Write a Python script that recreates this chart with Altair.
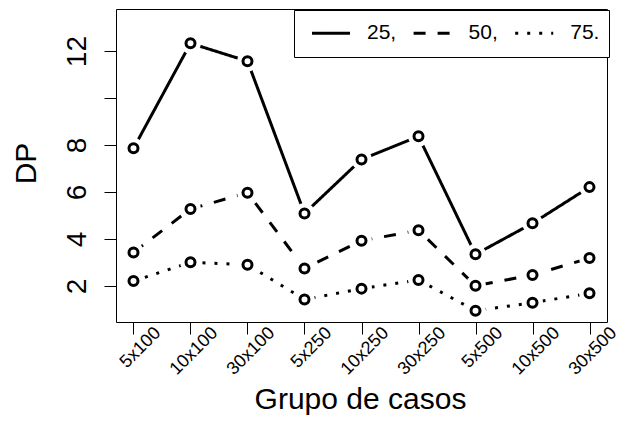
import altair as alt
import pandas as pd

groups = ["5x100", "10x100", "30x100", "5x250", "10x250", "30x250", "5x500", "10x500", "30x500"]
series_names = ["25,", "50,", "75."]
s25 = [7.86, 12.33, 11.57, 5.09, 7.39, 8.37, 3.35, 4.67, 6.21]
s50 = [3.43, 5.28, 5.97, 2.75, 3.93, 4.37, 2.01, 2.47, 3.19]
s75 = [2.21, 3.01, 2.91, 1.43, 1.89, 2.26, 0.95, 1.29, 1.69]
y_ticks = [2, 4, 6, 8, 10, 12]

rows = []
for name, vals in zip(series_names, [s25, s50, s75]):
    for g, v in zip(groups, vals):
        rows.append({"grupo": g, "serie": name, "dp": v})
df = pd.DataFrame(rows)

FONT = "Liberation Sans"

x_enc = alt.X(
    "grupo:N",
    sort=groups,
    scale=alt.Scale(type="point", padding=0.307),
    axis=alt.Axis(
        title="Grupo de casos",
        titleFontSize=30,
        titleFont=FONT,
        titleFontWeight="normal",
        titleColor="black",
        titleX=244,
        titleY=86,
        titleAlign="center",
        titleBaseline="alphabetic",
        labelFont=FONT,
        labelFontSize=18,
        labelColor="black",
        labelAngle=-45,
        labelAlign="right",
        labelBaseline="middle",
        labelPadding=-4,
        labelOffset=24,
        labelOverlap=False,
        labelFlush=False,
        labelBound=False,
        tickSize=12,
        tickColor="black",
        tickWidth=1,
        domain=False,
        grid=False,
    ),
)
y_enc = alt.Y(
    "dp:Q",
    scale=alt.Scale(domain=[0.47, 13.79], nice=False, zero=False),
    axis=alt.Axis(
        title="DP",
        titleFontSize=30,
        titleFont=FONT,
        titleFontWeight="normal",
        titleColor="black",
        titleAngle=270,
        titleX=-81,
        titleY=154,
        titleAlign="center",
        titleBaseline="alphabetic",
        values=y_ticks,
        labelExpr="datum.value == 10 ? '' : datum.label",
        labelFont=FONT,
        labelFontSize=28,
        labelColor="black",
        labelAngle=270,
        labelAlign="center",
        labelBaseline="alphabetic",
        labelPadding=19,
        labelOverlap=False,
        labelFlush=False,
        tickSize=12,
        tickColor="black",
        tickWidth=1,
        domain=False,
        grid=False,
    ),
)

base = alt.Chart(df).encode(x=x_enc, y=y_enc)

lines = base.mark_line(color="black", strokeWidth=3, strokeCap="butt").encode(
    strokeDash=alt.StrokeDash(
        "serie:N",
        scale=alt.Scale(domain=series_names, range=[[1, 0], [12, 12], [3, 9]]),
        legend=alt.Legend(
            title=None,
            orient="none",
            legendX=178,
            legendY=1,
            direction="horizontal",
            symbolType="stroke",
            symbolSize=1444,
            symbolStrokeWidth=3,
            symbolStrokeColor="black",
            symbolOffset=7.7,
            clipHeight=29,
            labelFont=FONT,
            labelFontSize=21,
            labelColor="black",
            labelOffset=15.5,
            columnPadding=7.6,
            padding=8.8,
            strokeColor="black",
            fillColor="white",
            cornerRadius=0,
        ),
    ),
    detail="serie:N",
)

halo = base.mark_point(shape="circle", filled=True, fill="white", size=441, opacity=1, strokeWidth=0).encode(
    detail="serie:N"
)
points = base.mark_point(shape="circle", filled=False, stroke="black", strokeWidth=3, size=81, opacity=1).encode(
    detail="serie:N"
)

chart = (
    alt.layer(lines, halo, points)
    .properties(
        width=491,
        height=313,
        padding={"left": 116, "top": 9, "right": 12, "bottom": 99},
        autosize=alt.AutoSizeParams(type="none"),
        background="white",
    )
    .configure_view(stroke="black", strokeWidth=1)
)

chart.save("out.html", embed_options={"renderer": "svg", "actions": False})
